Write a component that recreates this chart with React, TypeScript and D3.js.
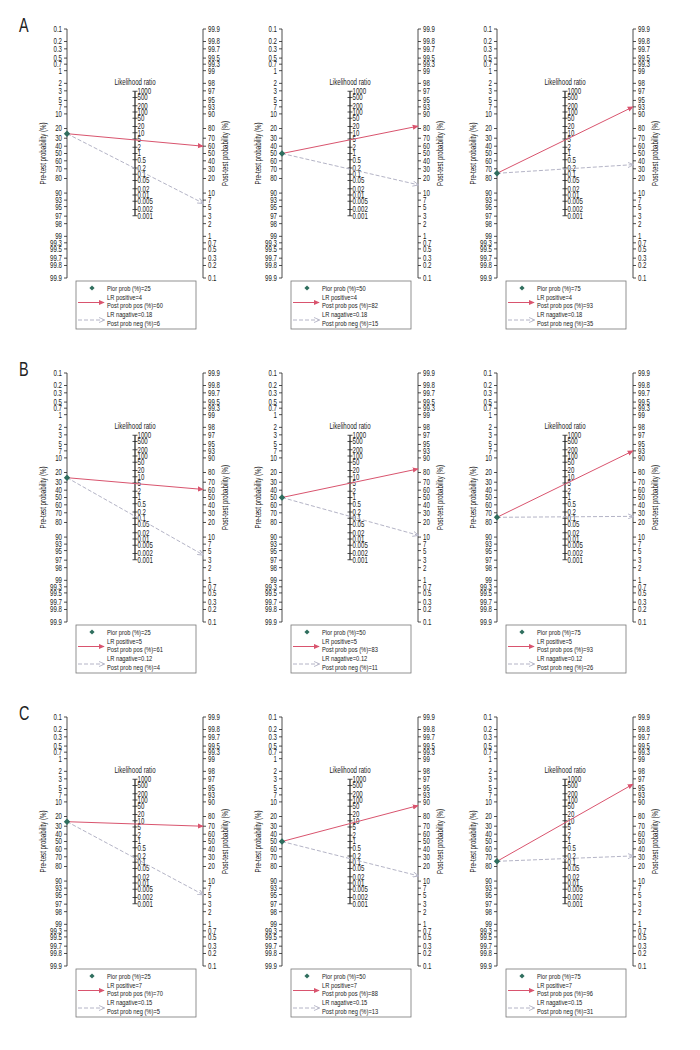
import React from "react";
import * as d3 from "d3";

const rowLetters = ["A", "B", "C"];
const priors = [25, 50, 75];
const lrPositive = [4, 5, 7];
const lrNegative = [0.18, 0.12, 0.15];
const postPos = [
  [60, 82, 93],
  [61, 83, 93],
  [70, 88, 96],
];
const postNeg = [
  [6, 15, 35],
  [4, 11, 26],
  [5, 13, 31],
];
const probTicks = [0.1, 0.2, 0.3, 0.5, 0.7, 1, 2, 3, 5, 7, 10, 20, 30, 40, 50, 60, 70, 80, 90, 93, 95, 97, 98, 99, 99.3, 99.5, 99.7, 99.8, 99.9];
const lrTicks = [1000, 500, 200, 100, 50, 20, 10, 5, 2, 1, 0.5, 0.2, 0.1, 0.05, 0.02, 0.01, 0.005, 0.002, 0.001];

const FONT = "'Liberation Sans', Arial, sans-serif";
const RED = "#d9546e";
const GREY = "#b4b4c6";
const GREEN = "#2f6e5e";
const SX = 0.72;

const colX = [67, 282, 497];
const rowY = [29, 373, 717];
const AXW = 136;
const AXH = 249;

const logit = (p: number) => Math.log(p / 100 / (1 - p / 100));

function T({ x, y, anchor = "start", rot = 0, fs = 8.5, dy = "0", children }: any) {
  return (
    <text
      transform={`translate(${x},${y}) rotate(${rot}) scale(${SX},1)`}
      textAnchor={anchor}
      fontSize={fs}
      dy={dy}
      fontFamily={FONT}
      fill="#222"
    >
      {children}
    </text>
  );
}

function Panel({ ox, oy, prior, lrp, lrn, pp, pn, uid }: any) {
  const lo = logit(0.1), hi = logit(99.9);
  const yL = d3.scaleLinear().domain([lo, hi]).range([oy, oy + AXH]);
  const yR = d3.scaleLinear().domain([hi, lo]).range([oy, oy + AXH]);
  const yLR = d3.scaleLog().domain([1000, 0.001]).range([oy + AXH / 4, oy + (AXH * 3) / 4]);
  const xL = ox, xR = ox + AXW, xM = ox + AXW / 2;
  const py = yL(logit(prior));
  const d = 3.2;
  const lfs = 8;
  return (
    <g>
      <defs>
        <marker id={`ar${uid}`} viewBox="0 0 8 8" refX="7" refY="4" markerWidth="6" markerHeight="6" orient="auto" markerUnits="userSpaceOnUse">
          <path d="M0,0.5 L8,4 L0,7.5 Z" fill={RED} />
        </marker>
        <marker id={`ag${uid}`} viewBox="0 0 8 8" refX="7" refY="4" markerWidth="6" markerHeight="6" orient="auto" markerUnits="userSpaceOnUse">
          <path d="M0,0.5 L8,4 L0,7.5" fill="none" stroke={GREY} strokeWidth="1.2" />
        </marker>
      </defs>
      {/* left axis */}
      <line x1={xL} x2={xL} y1={oy} y2={oy + AXH} stroke="#222" strokeWidth={0.8} />
      {probTicks.map((t) => (
        <g key={"l" + t}>
          <line x1={xL - 3} x2={xL} y1={yL(logit(t))} y2={yL(logit(t))} stroke="#222" strokeWidth={0.8} />
          <T x={xL - 5} y={yL(logit(t))} dy="0.35em" anchor="end">{t}</T>
        </g>
      ))}
      {/* right axis */}
      <line x1={xR} x2={xR} y1={oy} y2={oy + AXH} stroke="#222" strokeWidth={0.8} />
      {probTicks.map((t) => (
        <g key={"r" + t}>
          <line x1={xR} x2={xR + 3} y1={yR(logit(t))} y2={yR(logit(t))} stroke="#222" strokeWidth={0.8} />
          <T x={xR + 5} y={yR(logit(t))} dy="0.35em">{t}</T>
        </g>
      ))}
      {/* middle axis */}
      <line x1={xM} x2={xM} y1={yLR(1000)} y2={yLR(0.001)} stroke="#222" strokeWidth={1.2} />
      {lrTicks.map((t) => (
        <g key={"m" + t}>
          <line x1={xM - 2.5} x2={xM + 2.5} y1={yLR(t)} y2={yLR(t)} stroke="#222" strokeWidth={0.8} />
          <T x={xM + 2.5} y={yLR(t)} dy="0.35em">{t}</T>
        </g>
      ))}
      <T x={xM} y={oy + 56} anchor="middle">Likelihood ratio</T>
      <T x={xL - 21} y={oy + AXH / 2} rot={-90} anchor="middle">Pre-test probability (%)</T>
      <T x={xR + 25} y={oy + AXH / 2} rot={-90} anchor="middle">Post-test probability (%)</T>
      {/* lines */}
      <line x1={xL} y1={py} x2={xR} y2={yR(logit(pp))} stroke={RED} strokeWidth={1} markerEnd={`url(#ar${uid})`} />
      <line x1={xL} y1={py} x2={xR} y2={yR(logit(pn))} stroke={GREY} strokeWidth={1} strokeDasharray="4,2" markerEnd={`url(#ag${uid})`} />
      <path d={`M${xL},${py - d} L${xL + d},${py} L${xL},${py + d} L${xL - d},${py} Z`} fill={GREEN} />
      {/* legend */}
      <rect x={ox + 9} y={oy + 252} width={120} height={48} fill="#fff" stroke="#777" strokeWidth={0.8} />
      <path d={`M${ox + 25},${oy + 259 - 2.6} L${ox + 27.6},${oy + 259} L${ox + 25},${oy + 259 + 2.6} L${ox + 22.4},${oy + 259} Z`} fill={GREEN} />
      <T x={ox + 40} y={oy + 262} fs={lfs}>{`Pior prob (%)=${prior}`}</T>
      <line x1={ox + 11} x2={ox + 37} y1={oy + 273.5} y2={oy + 273.5} stroke={RED} strokeWidth={1} markerEnd={`url(#ar${uid})`} />
      <T x={ox + 40} y={oy + 270.5} fs={lfs}>{`LR positive=${lrp}`}</T>
      <T x={ox + 40} y={oy + 279} fs={lfs}>{`Post prob pos (%)=${pp}`}</T>
      <line x1={ox + 11} x2={ox + 37} y1={oy + 291} y2={oy + 291} stroke={GREY} strokeWidth={1} strokeDasharray="4,2" markerEnd={`url(#ag${uid})`} />
      <T x={ox + 40} y={oy + 288} fs={lfs}>{`LR nagative=${lrn}`}</T>
      <T x={ox + 40} y={oy + 296.5} fs={lfs}>{`Post prob neg (%)=${pn}`}</T>
    </g>
  );
}

export default function App() {
  return (
    <svg width={700} height={1050} style={{ position: "absolute", left: 0, top: 0, background: "#fff" }}>
      <rect width={700} height={1050} fill="#fff" />
      {rowLetters.map((L, r) => (
        <g key={L}>
          <T x={19} y={rowY[r] + 3} fs={20}>{L}</T>
          {priors.map((p, c) => (
            <Panel key={c} uid={`${r}_${c}`} ox={colX[c]} oy={rowY[r]} prior={p} lrp={lrPositive[r]} lrn={lrNegative[r]} pp={postPos[r][c]} pn={postNeg[r][c]} />
          ))}
        </g>
      ))}
    </svg>
  );
}
